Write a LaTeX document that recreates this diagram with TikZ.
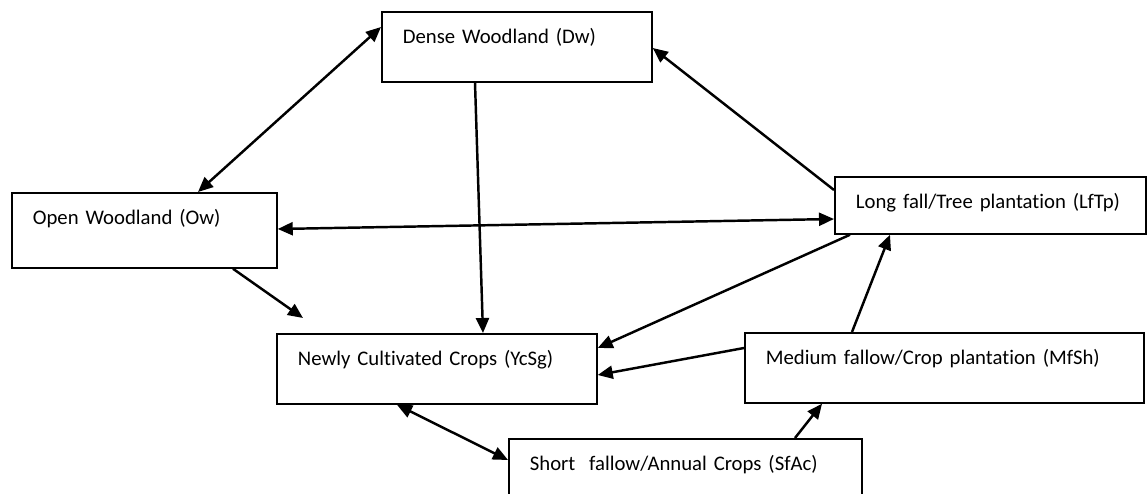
\documentclass[tikz,border=0pt]{standalone}
\usepackage{fontspec}
\setmainfont{Carlito}[Ligatures=NoCommon]
\usetikzlibrary{arrows.meta}
\tikzset{
  cover/.style={draw=black,line width=1pt,anchor=north west,align=left,inner xsep=.42cm,inner ysep=0pt,text height=.63cm,font=\fontsize{11.8}{13}\selectfont},
  flow/.style={-{Triangle[length=3mm,width=2.6mm]},draw=black,line width=1.4pt},
  both/.style={{Triangle[length=3mm,width=2.6mm]}-{Triangle[length=3mm,width=2.6mm]},draw=black,line width=1.4pt},
}
\begin{document}
\begin{tikzpicture}[x=1cm,y=1cm]
  \useasboundingbox (0,0) rectangle (22.94,-9.88);
  \clip (0,0) rectangle (22.94,-9.88);
  \node[cover,text width=4.56cm,text depth=.77cm] (dw) at (7.62,-.22) {Dense Woodland (Dw)};
  \node[cover,text width=4.46cm,text depth=.87cm] (ow) at (.22,-3.84) {Open Woodland (Ow)};
  \node[cover,text width=5.38cm,text depth=.51cm] (lftp) at (16.68,-3.52) {Long fall/Tree plantation (LfTp)};
  \node[cover,text width=5.56cm,text depth=.77cm] (ycsg) at (5.52,-6.66) {Newly Cultivated Crops (YcSg)};
  \node[cover,text width=7.14cm,text depth=.77cm] (mfsh) at (14.88,-6.64) {Medium fallow/Crop plantation (MfSh)};
  \node[cover,text width=6.22cm,text depth=.9cm] (sfac) at (10.16,-8.76) {Short\ \ fallow/Annual Crops (SfAc)};
  \coordinate (owtip) at ([shift={(.54cm,.30cm)}]ycsg.north west);

  \draw[both] ([yshift=-.32cm]dw.north west) -- ([xshift=3.74cm]ow.north west);
  \draw[flow] ([yshift=-.28cm]lftp.north west) -- ([yshift=-.74cm]dw.north east);
  \draw[both] ([yshift=-.74cm]ow.north east) -- ([yshift=-.86cm]lftp.north west);
  \draw[flow] ([xshift=1.88cm]dw.south west) -- ([xshift=4.14cm]ycsg.north west);
  \draw[flow] ([xshift=4.44cm]ow.south west) -- (owtip);
  \draw[flow] ([xshift=.32cm]lftp.south west) -- ([yshift=-.30cm]ycsg.north east);
  \draw[flow] ([yshift=-.32cm]mfsh.north west) -- ([yshift=-.84cm]ycsg.north east);
  \draw[flow] ([xshift=2.16cm]mfsh.north west) -- ([xshift=1.12cm]lftp.south west);
  \draw[flow] ([xshift=5.74cm]sfac.north west) -- ([xshift=1.56cm]mfsh.south west);
  \draw[both] ([xshift=2.42cm]ycsg.south west) -- ([yshift=-.44cm]sfac.north west);
\end{tikzpicture}
\end{document}
